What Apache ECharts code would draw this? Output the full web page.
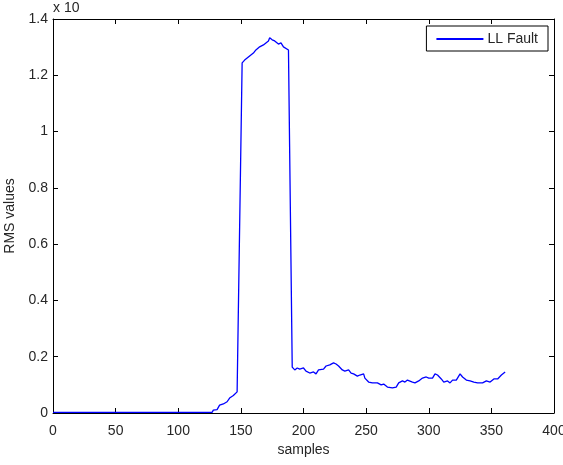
<!DOCTYPE html>
<html>
<head>
<meta charset="utf-8">
<script src="https://cdn.jsdelivr.net/npm/echarts@6/dist/echarts.min.js"></script>
<style>html,body{margin:0;padding:0;background:#fff}#c{width:563px;height:465px}</style>
</head>
<body>
<div id="c"></div>
<script>
// RMS values (units of 1e10), by segment
const riseSamples = [0,40,80,120,127,128,131,133,136,139,141,144,147];
const riseValues  = [0.002,0.002,0.002,0.002,0.002,0.010,0.012,0.028,0.032,0.040,0.053,0.062,0.075];
const peakSamples = [151,153,156,157,160,162,165,168,170,172,173,175,177,180,182,184,188];
const peakValues  = [1.244,1.254,1.265,1.272,1.279,1.290,1.301,1.308,1.315,1.322,1.333,1.326,1.322,1.311,1.315,1.301,1.290];
const tailSamples = [191,193,195,197,200,202,205,208,210,212,
                     213,216,218,221,224,226,228,231,233,236,
                     238,240,243,245,248,249,252,255,259,262,
                     264,267,271,274,276,279,281,283,287,289,
                     292,295,298,300,303,305,307,310,312,315,
                     317,319,322,325,327,330,333,336,339,343,
                     346,349,352,355,358,361];
const tailValues  = [0.163,0.153,0.160,0.156,0.160,0.149,0.142,0.146,0.139,0.153,
                     0.149,0.156,0.167,0.171,0.178,0.174,0.167,0.153,0.149,0.153,
                     0.142,0.139,0.131,0.135,0.139,0.124,0.110,0.107,0.107,0.100,
                     0.103,0.092,0.089,0.092,0.107,0.114,0.110,0.117,0.110,0.107,
                     0.114,0.124,0.128,0.124,0.124,0.139,0.135,0.121,0.110,0.114,
                     0.107,0.117,0.117,0.139,0.128,0.117,0.114,0.110,0.107,0.107,
                     0.114,0.110,0.121,0.121,0.135,0.146];
const xRange = [0,400,50];
const yRange = [0,1.4,0.2];
const seriesName = 'LL Fault';
const exponentText = 'x 10';
const exponentSup = '10';

const samples = riseSamples.concat(peakSamples, tailSamples);
const rmsValues = riseValues.concat(peakValues, tailValues);

const chart = echarts.init(document.getElementById('c'), null, {renderer:'canvas'});
const font = 'Liberation Sans, Arial, sans-serif';
const txt = '#262626';
const FS = 14;
function axisCommon(){
  return {
    show:true,
    axisLine:{show:true,onZero:false,lineStyle:{color:'#000',width:1}},
    axisTick:{show:true,inside:true,length:5,lineStyle:{color:'#000',width:1}},
    splitLine:{show:false}
  };
}
chart.setOption({
  animation:false,
  backgroundColor:'#fff',
  grid:{left:53,right:9,top:19,bottom:52,containLabel:false,outerBoundsMode:'none'},
  xAxis:[
    Object.assign({type:'value',min:xRange[0],max:xRange[1],interval:xRange[2],position:'bottom',
      name:'samples',nameLocation:'middle',nameGap:29,
      nameTextStyle:{fontFamily:font,fontSize:FS,color:txt},
      axisLabel:{fontFamily:font,fontSize:FS,color:txt,margin:11,showMaxLabel:true,showMinLabel:true}},axisCommon()),
    Object.assign({type:'value',min:xRange[0],max:xRange[1],interval:xRange[2],position:'top',
      axisLabel:{show:false}},axisCommon())
  ],
  yAxis:[
    Object.assign({type:'value',min:yRange[0],max:yRange[1],interval:yRange[2],position:'left',
      name:'RMS values',nameLocation:'middle',nameGap:28,
      nameTextStyle:{fontFamily:font,fontSize:FS,color:txt},
      axisLabel:{fontFamily:font,fontSize:FS,color:txt,margin:5}},axisCommon()),
    Object.assign({type:'value',min:yRange[0],max:yRange[1],interval:yRange[2],position:'right',
      axisLabel:{show:false}},axisCommon())
  ],
  legend:{
    show:true,right:15,top:26,orient:'vertical',
    itemWidth:47,itemHeight:2,itemGap:0,
    padding:[6,10,5,10],
    borderColor:'#000',borderWidth:1,backgroundColor:'#fff',
    textStyle:{fontFamily:font,fontSize:FS,color:txt,padding:[0,0,0,-1]},
    icon:'rect',
    data:[seriesName]
  },
  series:[{
    name:seriesName,type:'line',
    data:samples.map((s,i)=>[s,rmsValues[i]]),
    showSymbol:false,symbol:'none',
    lineStyle:{color:'#0000ff',width:1.3},
    itemStyle:{color:'#0000ff'}
  },{
    name:'_frame',type:'line',xAxisIndex:1,yAxisIndex:1,data:[[0,0]],symbol:'none',lineStyle:{opacity:0},silent:true
  }],
  graphic:[
    {type:'text',left:53,top:1,style:{text:exponentText,font:FS+'px '+font,fill:txt}},
    {type:'text',left:86,top:-8,style:{text:exponentSup,font:'10px '+font,fill:txt}}
  ]
});
</script>
</body>
</html>
